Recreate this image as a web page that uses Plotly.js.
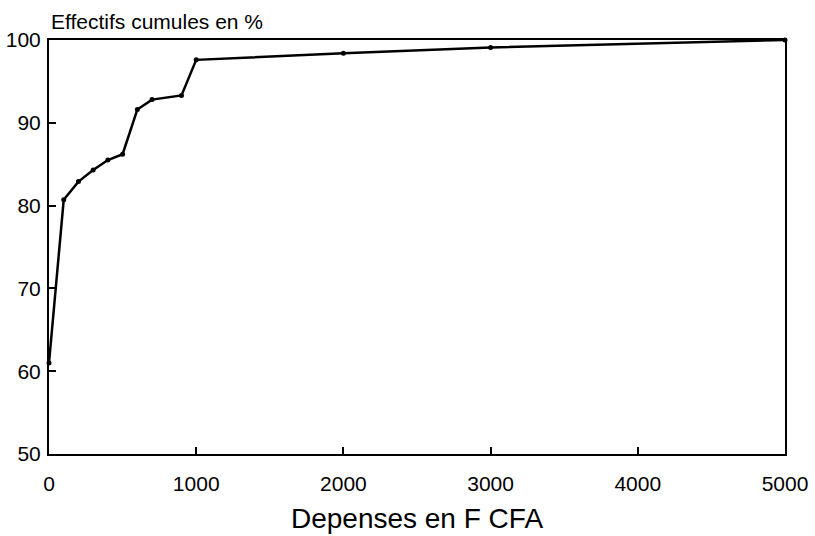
<!DOCTYPE html>
<html>
<head>
<meta charset="utf-8">
<script src="https://cdn.plot.ly/plotly-3.0.1.min.js"></script>
<style>
  html, body { margin: 0; padding: 0; background: #fff; }
  #chart { width: 815px; height: 536px; }
</style>
</head>
<body>
<div id="chart"></div>
<script>
// Data
const depenses = [0, 100, 200, 300, 400, 500, 600, 700, 900, 1000, 2000, 3000, 5000];
const effectifsCumules = [61, 80.7, 82.9, 84.3, 85.5, 86.2, 91.6, 92.8, 93.3, 97.6, 98.4, 99.1, 100];
const xTickVals = [0, 1000, 2000, 3000, 4000, 5000];
const yTickVals = [50, 60, 70, 80, 90, 100];
const xTitle = "Depenses en F CFA";
const yTitle = "Effectifs cumules en %";

const trace = {
  x: depenses,
  y: effectifsCumules,
  type: 'scatter',
  mode: 'lines+markers',
  line: { color: '#000', width: 2.5 },
  marker: { color: '#000', size: 5 },
  hoverinfo: 'x+y',
  cliponaxis: false
};

const fontFam = '"Liberation Sans", Arial, sans-serif';

const layout = {
  width: 815,
  height: 536,
  margin: { l: 49, r: 30, t: 40, b: 82 },
  paper_bgcolor: '#fff',
  plot_bgcolor: '#fff',
  showlegend: false,
  font: { family: fontFam, color: '#000' },
  xaxis: {
    range: [0, 5000],
    tickvals: xTickVals,
    ticktext: xTickVals.map(String),
    ticks: 'inside',
    ticklen: 7,
    tickwidth: 2,
    tickcolor: '#000',
    showline: true,
    linecolor: '#000',
    linewidth: 2,
    mirror: true,
    showgrid: false,
    zeroline: false,
    tickfont: { family: fontFam, size: 21, color: '#000' },
    ticklabelstandoff: 10,
    title: { text: xTitle, font: { family: fontFam, size: 28, color: '#000' }, standoff: 14 }
  },
  yaxis: {
    range: [50, 100],
    tickvals: yTickVals,
    ticktext: yTickVals.map(String),
    ticks: 'inside',
    ticklen: 7,
    tickwidth: 2,
    tickcolor: '#000',
    showline: true,
    linecolor: '#000',
    linewidth: 2,
    mirror: true,
    showgrid: false,
    zeroline: false,
    tickfont: { family: fontFam, size: 21, color: '#000' },
    ticklabelstandoff: 2
  },
  annotations: [{
    text: yTitle,
    xref: 'paper', yref: 'paper',
    x: 0, y: 1.0435,
    xanchor: 'left', yanchor: 'middle',
    showarrow: false,
    font: { family: fontFam, size: 21, color: '#000' }
  }]
};

Plotly.newPlot('chart', [trace], layout, { displayModeBar: false, staticPlot: true });
</script>
</body>
</html>
